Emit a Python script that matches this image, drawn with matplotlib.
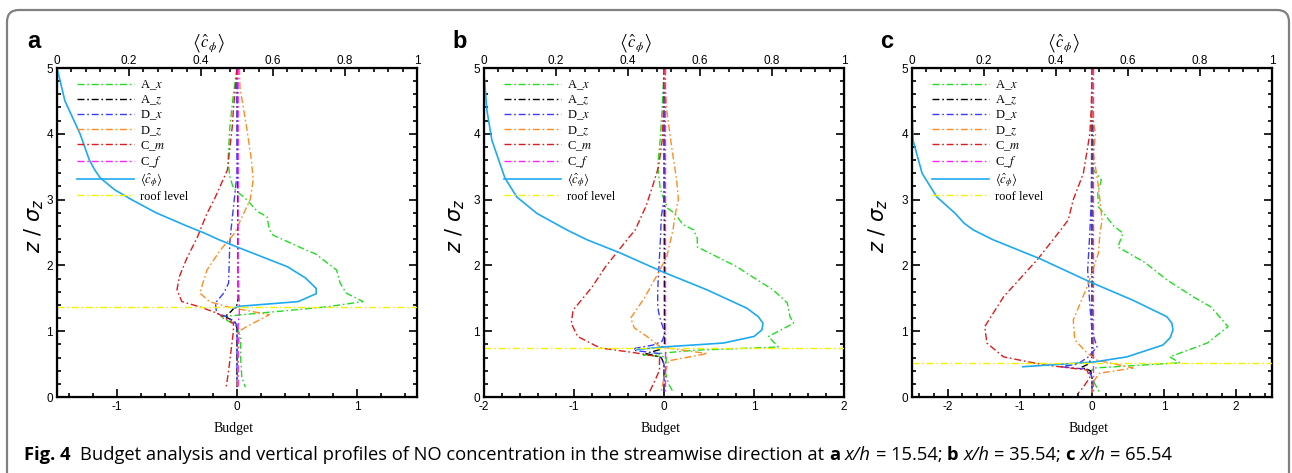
import numpy as np
import matplotlib
matplotlib.use("Agg")
import matplotlib.pyplot as plt
from matplotlib.ticker import MultipleLocator, FuncFormatter
from matplotlib.patches import FancyBboxPatch
from matplotlib.transforms import IdentityTransform

plt.rcParams['mathtext.fontset'] = 'stix'
plt.rcParams['axes.unicode_minus'] = False
plt.rcParams['font.family'] = ['Liberation Sans', 'DejaVu Sans']

# ---------------- data ----------------
# panel a : x/h = 15.54
a_roof = 1.37
a_Ax_z = [5.0, 4.6, 4.1, 3.6, 3.35, 3.17, 3.0, 2.82, 2.74, 2.54, 2.46, 2.23, 2.18, 1.93, 1.73, 1.58, 1.45, 1.37, 1.29, 1.22, 1.09, 0.92, 0.6, 0.3, 0.15]
a_Ax_b = [0.0, -0.03, -0.06, -0.075, -0.06, -0.03, 0.08, 0.17, 0.25, 0.27, 0.30, 0.58, 0.65, 0.83, 0.86, 0.91, 1.05, 0.75, 0.28, -0.14, -0.01, 0.03, 0.03, 0.04, 0.07]
a_Az_z = [5.0, 1.5, 1.4, 1.3, 1.22, 1.15, 1.05, 0.15]
a_Az_b = [0.0, 0.01, 0.0, -0.05, -0.1, -0.02, 0.0, 0.0]
a_Dx_z = [5.0, 3.4, 3.3, 2.54, 2.34, 1.73, 1.58, 1.43, 1.27, 1.22, 1.1, 0.15]
a_Dx_b = [0.0, 0.0, -0.005, -0.05, -0.06, -0.07, -0.11, -0.18, -0.17, -0.08, 0.0, 0.0]
a_Dz_z = [5.0, 4.7, 4.1, 3.6, 3.3, 3.0, 2.69, 2.49, 2.23, 1.93, 1.58, 1.45, 1.37, 1.25, 1.07, 1.0, 0.6, 0.15]
a_Dz_b = [0.02, 0.025, 0.08, 0.12, 0.135, 0.11, 0.03, -0.02, -0.14, -0.25, -0.31, -0.23, -0.08, 0.27, 0.08, 0.02, 0.01, 0.0]
a_Cm_z = [5.0, 4.36, 4.1, 3.45, 3.0, 2.79, 2.43, 2.1, 1.83, 1.63, 1.45, 1.37, 1.27, 1.12, 1.0, 0.7, 0.4, 0.15]
a_Cm_b = [0.0, -0.03, -0.04, -0.08, -0.19, -0.25, -0.33, -0.42, -0.48, -0.5, -0.46, -0.31, -0.16, -0.03, -0.03, -0.05, -0.07, -0.09]
a_Cf_z = [5.0, 2.0, 1.3, 1.1, 0.15]
a_Cf_b = [0.01, 0.01, 0.02, 0.01, 0.01]
a_c_z = [5.0, 4.5, 4.0, 3.6, 3.45, 3.33, 3.15, 3.0, 2.8, 2.6, 2.49, 2.39, 2.28, 1.98, 1.81, 1.65, 1.57, 1.45, 1.38, 1.35]
a_c_v = [0.0, 0.022, 0.064, 0.09, 0.105, 0.12, 0.16, 0.207, 0.275, 0.36, 0.41, 0.45, 0.50, 0.64, 0.69, 0.72, 0.72, 0.67, 0.51, 0.49]

# panel b : x/h = 35.54
b_roof = 0.745
b_Ax_z = [5.0, 4.4, 3.95, 3.5, 3.15, 3.0, 2.87, 2.79, 2.62, 2.54, 2.41, 2.28, 1.98, 1.88, 1.63, 1.43, 1.22, 1.12, 0.92, 0.76, 0.71, 0.64, 0.61, 0.4, 0.2, 0.08]
b_Ax_b = [0.0, -0.02, -0.04, -0.07, -0.04, 0.0, 0.04, 0.12, 0.21, 0.33, 0.37, 0.37, 0.81, 0.92, 1.21, 1.37, 1.4, 1.44, 1.16, 1.27, 0.33, -0.23, 0.03, 0.01, 0.05, 0.1]
b_Az_z = [5.0, 0.8, 0.72, 0.66, 0.6, 0.5, 0.08]
b_Az_b = [0.0, 0.005, -0.05, -0.2, -0.03, 0.0, 0.0]
b_Dx_z = [5.0, 3.0, 2.74, 2.39, 1.63, 1.37, 1.22, 0.97, 0.85, 0.79, 0.74, 0.71, 0.66, 0.5, 0.08]
b_Dx_b = [0.0, 0.0, -0.03, -0.04, -0.07, -0.07, -0.05, 0.01, -0.02, -0.12, -0.32, -0.34, -0.05, 0.0, 0.0]
b_Dz_z = [5.0, 4.36, 3.75, 3.3, 3.0, 2.74, 2.54, 2.13, 1.82, 1.5, 1.2, 1.05, 0.92, 0.76, 0.66, 0.55, 0.3, 0.08]
b_Dz_b = [0.0, 0.03, 0.09, 0.14, 0.16, 0.12, 0.1, 0.03, -0.09, -0.22, -0.37, -0.33, -0.19, -0.04, 0.48, 0.05, 0.0, -0.03]
b_Cm_z = [5.0, 4.4, 3.9, 3.5, 3.19, 2.9, 2.54, 2.39, 1.98, 1.67, 1.32, 1.12, 0.92, 0.745, 0.68, 0.61, 0.41, 0.25, 0.08]
b_Cm_b = [0.0, -0.005, -0.02, -0.06, -0.13, -0.2, -0.32, -0.41, -0.65, -0.8, -1.01, -1.03, -0.96, -0.71, -0.36, -0.05, -0.05, -0.1, -0.16]
b_Cf_z = [5.0, 0.08]
b_Cf_b = [0.01, 0.01]
b_c_z = [4.85, 4.36, 3.9, 3.33, 3.04, 2.79, 2.54, 2.39, 2.19, 1.9, 1.63, 1.35, 1.22, 1.12, 1.02, 0.92, 0.82, 0.76, 0.72]
b_c_v = [0.001, 0.008, 0.022, 0.058, 0.091, 0.147, 0.23, 0.286, 0.378, 0.497, 0.619, 0.73, 0.762, 0.775, 0.772, 0.75, 0.665, 0.497, 0.425]

# panel c : x/h = 65.54
c_roof = 0.52
c_Ax_z = [5.0, 4.3, 3.8, 3.45, 3.3, 3.1, 2.89, 2.74, 2.6, 2.49, 2.28, 2.04, 1.78, 1.52, 1.37, 1.07, 0.82, 0.61, 0.52, 0.44, 0.36, 0.2, 0.06]
c_Ax_b = [0.0, 0.0, 0.01, 0.02, 0.13, 0.08, 0.09, 0.2, 0.3, 0.43, 0.36, 0.74, 1.04, 1.41, 1.65, 1.89, 1.6, 1.08, 1.22, 0.02, -0.03, 0.04, 0.11]
c_Az_z = [5.0, 0.6, 0.5, 0.45, 0.4, 0.3, 0.06]
c_Az_b = [0.0, 0.0, -0.05, -0.15, -0.02, 0.0, 0.0]
c_Dx_z = [5.0, 3.0, 2.5, 1.93, 1.4, 1.0, 0.76, 0.61, 0.5, 0.46, 0.42, 0.3, 0.06]
c_Dx_b = [0.0, -0.01, -0.03, -0.06, -0.03, 0.0, 0.07, -0.05, -0.2, -0.44, -0.05, 0.0, 0.0]
c_Dz_z = [5.0, 4.3, 4.0, 3.7, 3.19, 2.69, 2.49, 2.19, 1.67, 1.17, 0.87, 0.67, 0.56, 0.44, 0.36, 0.2, 0.06]
c_Dz_b = [0.0, 0.0, 0.05, 0.02, 0.09, 0.14, 0.11, 0.09, -0.07, -0.26, -0.24, -0.07, 0.07, 0.57, 0.1, 0.0, 0.0]
c_Cm_z = [5.0, 4.4, 4.0, 3.4, 3.0, 2.69, 2.49, 2.1, 1.52, 1.07, 0.82, 0.61, 0.49, 0.41, 0.3, 0.15, 0.06]
c_Cm_b = [0.0, -0.01, -0.03, -0.12, -0.26, -0.33, -0.47, -0.75, -1.23, -1.49, -1.46, -1.23, -0.68, -0.07, -0.03, -0.12, -0.19]
c_Cf_z = [5.0, 0.06]
c_Cf_b = [0.01, 0.01]
c_c_z = [4.4, 3.9, 3.4, 3.04, 2.79, 2.64, 2.54, 2.39, 2.1, 1.75, 1.47, 1.22, 1.12, 1.02, 0.9, 0.79, 0.61, 0.53, 0.46]
c_c_v = [0.0, 0.003, 0.028, 0.069, 0.12, 0.145, 0.17, 0.225, 0.356, 0.494, 0.614, 0.708, 0.722, 0.725, 0.717, 0.697, 0.597, 0.503, 0.308]

term_names = ['A_$x$', 'A_$z$', 'D_$x$', 'D_$z$', 'C_$m$', 'C_$f$']
chat_label = r'$\langle\hat{c}_{\phi}\rangle$'
chat_axis_label = r'$\left\langle\hat{c}_{\phi}\right\rangle$'
panel_letters = ['a', 'b', 'c']
budget_lims = [(-1.5, 1.5), (-2, 2), (-2.5, 2.5)]

# ---------------- styles ----------------
W, H = 1292, 473
term_colors = ['#22dd22', '#000000', '#3b3bff', '#ff8c22', '#dd1c1c', '#ff22ff']
CYAN = '#1eaaf0'
YELLOW = '#f2f200'
DASH = (5, 2, 1.2, 2)

panels = [
    (a_roof, [(a_Ax_z, a_Ax_b), (a_Az_z, a_Az_b), (a_Dx_z, a_Dx_b), (a_Dz_z, a_Dz_b), (a_Cm_z, a_Cm_b), (a_Cf_z, a_Cf_b)], (a_c_z, a_c_v)),
    (b_roof, [(b_Ax_z, b_Ax_b), (b_Az_z, b_Az_b), (b_Dx_z, b_Dx_b), (b_Dz_z, b_Dz_b), (b_Cm_z, b_Cm_b), (b_Cf_z, b_Cf_b)], (b_c_z, b_c_v)),
    (c_roof, [(c_Ax_z, c_Ax_b), (c_Az_z, c_Az_b), (c_Dx_z, c_Dx_b), (c_Dz_z, c_Dz_b), (c_Cm_z, c_Cm_b), (c_Cf_z, c_Cf_b)], (c_c_z, c_c_v)),
]
lefts = [57, 484, 912]
letter_x = [27, 452, 880]
ylab_x = [-0.03, -0.046, -0.061]

fig = plt.figure(figsize=(W / 100, H / 100), dpi=100)

# rounded outer frame of the figure box
frame = FancyBboxPatch((7, -30), 1282, 493, boxstyle="round,pad=0,rounding_size=12",
                       transform=IdentityTransform(), fill=False, ec='#808080', lw=1.6)
fig.patches.append(frame)

for i, (roof, curves, chat) in enumerate(panels):
    ax = fig.add_axes([lefts[i] / W, 76 / H, 360 / W, 329 / H])
    handles = []
    for (zz, bb), name, col in zip(curves, term_names, term_colors):
        ln, = ax.plot(bb, zz, color=col, lw=1.0, dashes=DASH, label=name)
        handles.append(ln)
    ax.set_xlim(*budget_lims[i])
    ax.set_ylim(0, 5)
    ax.xaxis.set_major_locator(MultipleLocator(1))
    ax.xaxis.set_minor_locator(MultipleLocator(0.2))
    ax.yaxis.set_major_locator(MultipleLocator(1))
    ax.yaxis.set_minor_locator(MultipleLocator(0.2))
    ax.tick_params(which='both', direction='in', top=False, right=True, labelsize=8.5, width=1.2, pad=3)
    ax.tick_params(which='major', length=5.5)
    ax.tick_params(which='minor', length=3)
    for s in ax.spines.values():
        s.set_linewidth(1.6)
    ax.set_xlabel('Budget', fontsize=10, family='Liberation Serif')
    ax.xaxis.set_label_coords(0.49, -0.075)
    ax.set_ylabel(r'$z\ /\ \sigma_z$', fontsize=15, math_fontfamily='dejavusans')
    ax.yaxis.set_label_coords(ylab_x[i], 0.52)

    ax2 = ax.twiny()
    cl, = ax2.plot(chat[1], chat[0], color=CYAN, lw=1.2, label=chat_label)
    rl = ax2.axhline(roof, color=YELLOW, lw=1.0, dashes=DASH, label='roof level')
    ax2.set_xlim(0, 1)
    ax2.xaxis.set_major_locator(MultipleLocator(0.2))
    ax2.xaxis.set_minor_locator(MultipleLocator(0.04))
    ax2.xaxis.set_major_formatter(FuncFormatter(lambda v, p: '%g' % round(v, 2)))
    ax2.tick_params(which='both', direction='in', labelsize=8.5, width=1.2, pad=1)
    ax2.tick_params(which='major', length=5.5)
    ax2.tick_params(which='minor', length=3)
    ax2.set_xlabel(chat_axis_label, fontsize=12)
    ax2.xaxis.set_label_coords(0.42, 1.062)

    handles += [cl, rl]
    ax2.legend(handles, [h.get_label() for h in handles], loc='upper left',
               bbox_to_anchor=(0.055, 0.968), frameon=False,
               prop={'family': 'Liberation Serif', 'size': 9},
               handlelength=4.6, handletextpad=0.45, labelspacing=0.12,
               borderpad=0, borderaxespad=0)

    fig.text(letter_x[i] / W, 1 - 42 / H, panel_letters[i], fontsize=17,
             fontweight='bold', va='center', ha='left')

# caption, assembled piece by piece so bold/italic parts line up
caption = [('Fig. 4', 'bold', 'normal'), ('  ', None, None),
           ('Budget analysis and vertical profiles of NO concentration in the streamwise direction at', 'normal', 'normal'),
           (' ', None, None), ('a', 'bold', 'normal'), (' ', None, None), ('x/h', 'normal', 'italic'),
           (' ', None, None), ('= 15.54;', 'normal', 'normal'), (' ', None, None),
           ('b', 'bold', 'normal'), (' ', None, None), ('x/h', 'normal', 'italic'),
           (' ', None, None), ('= 35.54;', 'normal', 'normal'), (' ', None, None),
           ('c', 'bold', 'normal'), (' ', None, None), ('x/h', 'normal', 'italic'),
           (' ', None, None), ('= 65.54', 'normal', 'normal')]
cap_font = 'Open Sans'
renderer = fig.canvas.get_renderer()


def layout_caption(size, draw):
    tmp1 = fig.text(0, 0, 'xx', family=cap_font, fontsize=size)
    tmp2 = fig.text(0, 0, 'x x', family=cap_font, fontsize=size)
    sp = tmp2.get_window_extent(renderer).width - tmp1.get_window_extent(renderer).width
    tmp1.remove(); tmp2.remove()
    x = 24.0
    for txt, wt, st in caption:
        if wt is None:
            x += sp * len(txt)
            continue
        t = fig.text(x / W, 1 - 460 / H, txt, family=cap_font, fontsize=size,
                     fontweight=wt, fontstyle=st, va='baseline', ha='left')
        w = t.get_window_extent(renderer).width
        if not draw:
            t.remove()
        x += w
    return x


end = layout_caption(12, False)
size = 12 * (1173 - 24) / (end - 24)
layout_caption(size, True)

fig.savefig('out.png', dpi=100)
